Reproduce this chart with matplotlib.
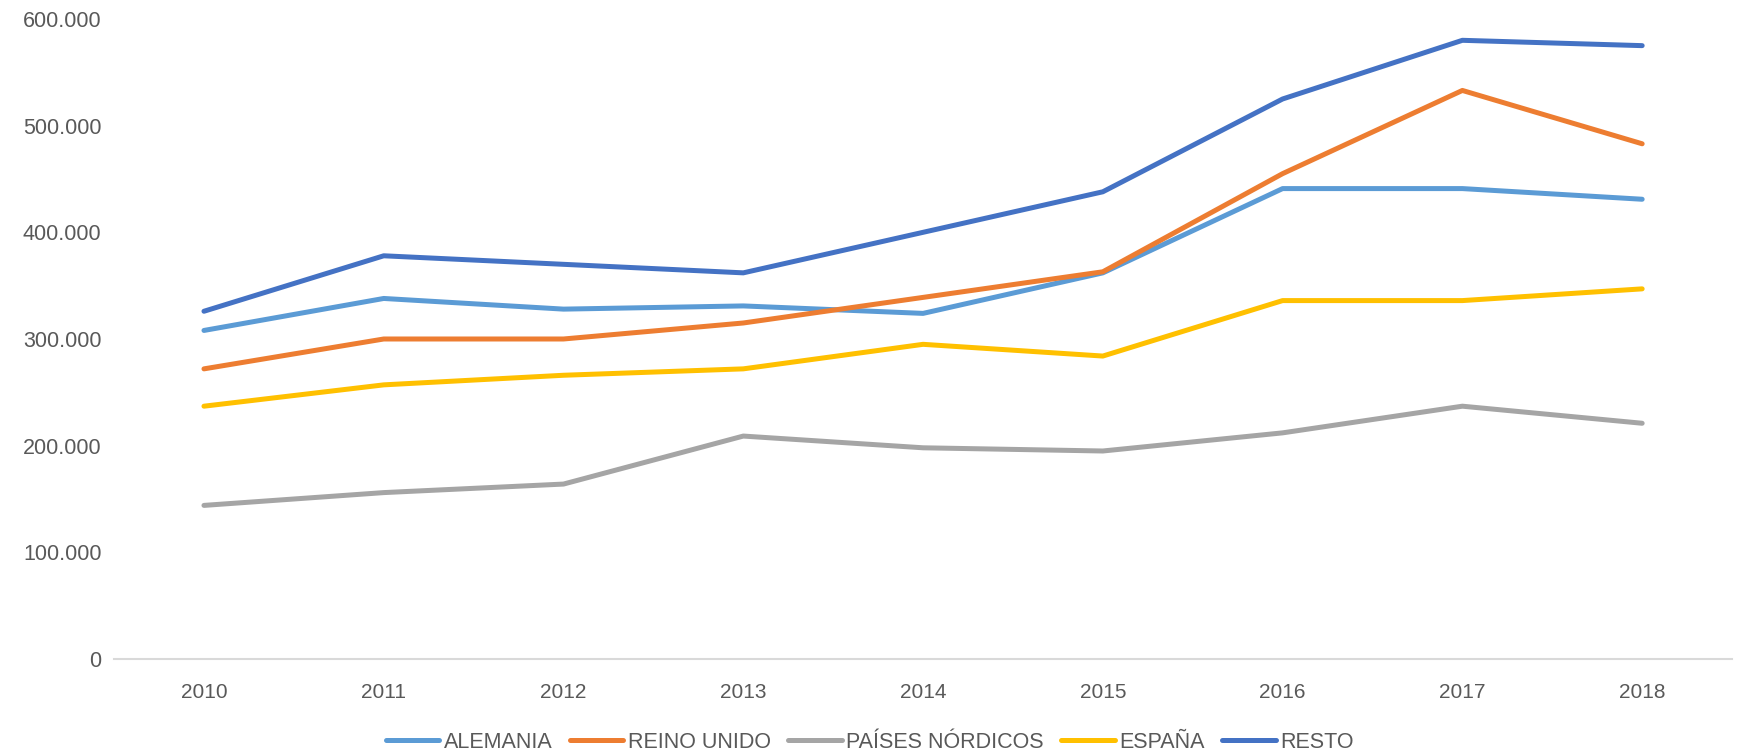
import numpy as np
import matplotlib
matplotlib.use("Agg")
from matplotlib import pyplot as plt
from matplotlib.ticker import FuncFormatter

plt.rcParams['font.family'] = ['Liberation Sans', 'DejaVu Sans']

# Data
years = ["2010", "2011", "2012", "2013", "2014", "2015", "2016", "2017", "2018"]
alemania = [308000, 338000, 328000, 331000, 324000, 362000, 441000, 441000, 431000]
reino_unido = [272000, 300000, 300000, 315000, 339000, 363000, 455000, 533000, 483000]
paises_nordicos = [144000, 156000, 164000, 209000, 198000, 195000, 212000, 237000, 221000]
espana = [237000, 257000, 266000, 272000, 295000, 284000, 336000, 336000, 347000]
resto = [326000, 378000, 370000, 362000, 400000, 438000, 525000, 580000, 575000]

series = [
    ("ALEMANIA", alemania, "#5B9BD5"),
    ("REINO UNIDO", reino_unido, "#ED7D31"),
    ("PAÍSES NÓRDICOS", paises_nordicos, "#A5A5A5"),
    ("ESPAÑA", espana, "#FFC000"),
    ("RESTO", resto, "#4472C4"),
]

txt_color = "#595959"

fig = plt.figure(figsize=(17.39, 7.56), dpi=100)
ax = fig.add_axes([0.0656, 0.1283, 0.9304, 0.8466])

x = np.arange(len(years))
for name, vals, col in series:
    ax.plot(x, vals, color=col, lw=3.6, label=name, solid_capstyle='round',
            solid_joinstyle='round')

ax.set_xlim(-0.5, len(years) - 0.5)
ax.set_ylim(0, 600000)
ax.set_yticks(np.arange(0, 600001, 100000))
ax.yaxis.set_major_formatter(FuncFormatter(lambda v, p: f"{int(v):,}".replace(",", ".")))
ax.set_xticks(x)
ax.set_xticklabels(years)

for s in ["top", "right", "left"]:
    ax.spines[s].set_visible(False)
ax.spines["bottom"].set_color("#D9D9D9")
ax.spines["bottom"].set_linewidth(1.5)

ax.tick_params(axis="y", length=0, pad=9, labelsize=15.5, labelcolor=txt_color)
ax.tick_params(axis="x", length=0, pad=17, labelsize=15, labelcolor=txt_color)

leg = fig.legend(loc="center", bbox_to_anchor=(0.5, 1 - 742 / 756), ncol=5,
                 frameon=False, fontsize=15.5, handlelength=2.5,
                 handletextpad=0.2, columnspacing=0.8)
for t in leg.get_texts():
    t.set_color(txt_color)

fig.savefig("out.png", dpi=100)
